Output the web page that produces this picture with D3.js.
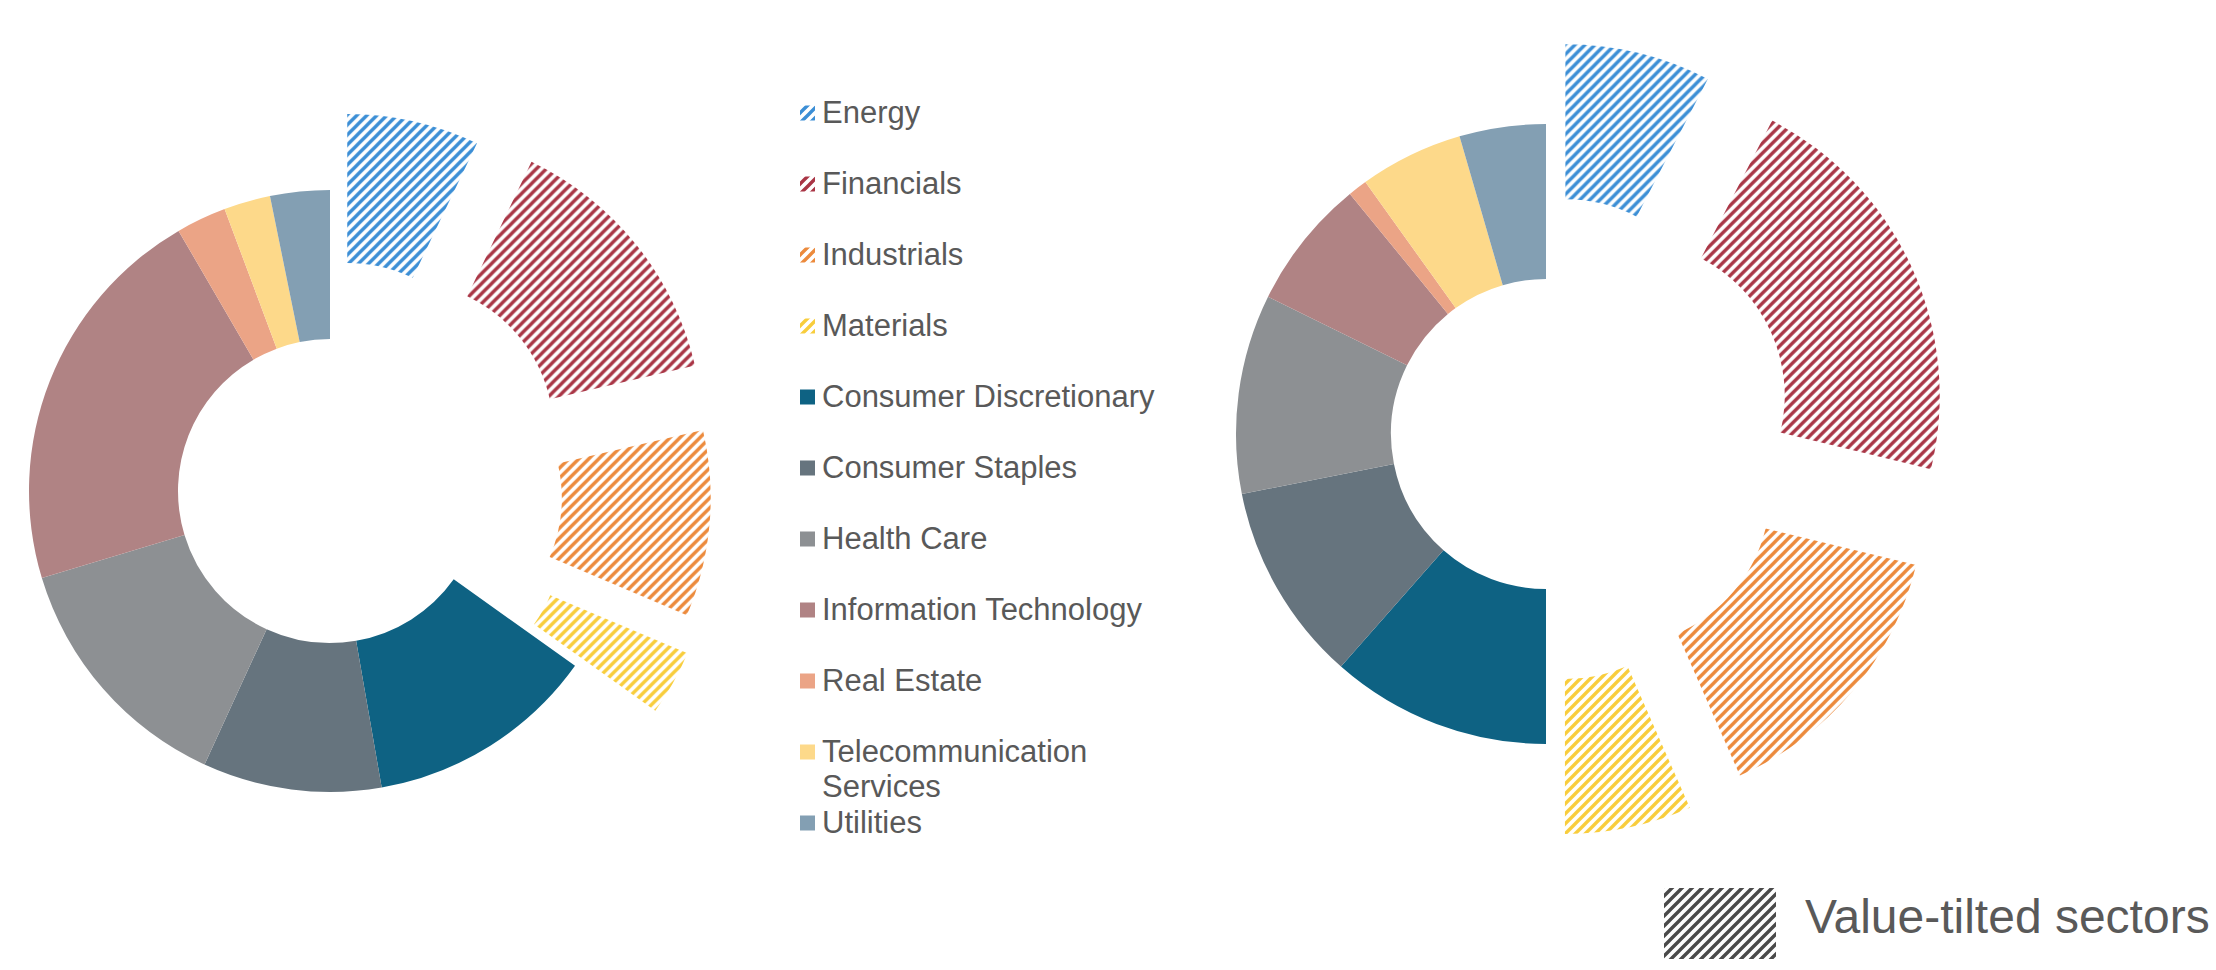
<!DOCTYPE html>
<html>
<head>
<meta charset="utf-8">
<script src="https://cdn.jsdelivr.net/npm/d3@7"></script>
<style>
  body { margin: 0; background: #fff; }
  text { font-family: "Liberation Sans", Arial, sans-serif; fill: #595959; }
</style>
</head>
<body>
<svg width="2216" height="970"></svg>
<script>
// sector weights, % (left: broad market, right: value index)
const sectors = ['Energy', 'Financials', 'Industrials', 'Materials',
    'Consumer Discretionary', 'Consumer Staples', 'Health Care',
    'Information Technology', 'Real Estate', 'Telecommunication Services', 'Utilities']
const valueTilted = ['Energy', 'Financials', 'Industrials', 'Materials']
const marketWeights = [7.1, 14.3, 10.0, 3.5, 12.4, 9.6, 13.5, 21.3, 2.7, 2.5, 3.2]
const valueWeights = [7.6, 21.2, 14.6, 6.6, 11.5, 10.4, 10.4, 6.8, 1.0, 5.4, 4.5]
const legendNote = 'Value-tilted sectors'

const svg = d3.select('svg')
const defs = svg.append('defs')

const color = d3.scaleOrdinal()
    .domain(sectors)
    .range(['#3b8ed5', '#a93545', '#ec8a3c', '#f8cd3c', '#0e6283', '#66747e',
            '#8d9093', '#b08384', '#eba486', '#fdd98a', '#839fb3'])

// diagonal hatch for the value-tilted sectors
function hatch(id, c) {
    const p = defs.append('pattern')
        .attr('id', id)
        .attr('patternUnits', 'userSpaceOnUse')
        .attr('width', 10)
        .attr('height', 10)
    p.append('path')
        .attr('d', 'M-5,5 L5,-5 M0,10 L10,0 M5,15 L15,5')
        .attr('stroke', c)
        .attr('stroke-width', 3.4)
        .attr('fill', 'none')
}
valueTilted.forEach((s, i) => hatch('hatch' + i, color(s)))
hatch('hatchNote', '#4a4a4a')

const fillOf = name => valueTilted.includes(name)
    ? `url(#hatch${valueTilted.indexOf(name)})`
    : color(name)

function donut(values, cx, cy, outer, inner, pushOut) {
    const data = sectors.map((s, i) => ({ name: s, value: values[i] }))
    const pie = d3.pie().sort(null).value(d => d.value)
    const arc = d3.arc().innerRadius(inner).outerRadius(outer)
    const explode = d3.scaleOrdinal().domain(valueTilted).range(pushOut).unknown(0)
    const g = svg.append('g').attr('transform', `translate(${cx},${cy})`)

    g.selectAll('path')
        .data(pie(data))
        .enter()
        .append('path')
        .attr('d', arc)
        .attr('fill', d => fillOf(d.data.name))
        .attr('transform', d => {
            const mid = (d.startAngle + d.endAngle) / 2
            const off = explode(d.data.name)
            return `translate(${Math.sin(mid) * off},${-Math.cos(mid) * off})`
        })
}

donut(marketWeights, 330, 491, 301, 152, [78, 92, 80, 92])
donut(valueWeights, 1546, 434, 310, 155, [82, 92, 90, 92])

// legend
const legendY = d3.scaleLinear().domain([0, 10]).range([113, 823])
const legend = svg.append('g')
const rows = legend.selectAll('g')
    .data(sectors)
    .enter()
    .append('g')
    .attr('transform', (d, i) => `translate(800,${legendY(i)})`)

rows.append('rect')
    .attr('x', 0)
    .attr('y', -7.5)
    .attr('width', 15)
    .attr('height', 15)
    .attr('fill', d => fillOf(d))

rows.append('text')
    .attr('x', 22)
    .attr('y', 10)
    .style('font-size', '31px')
    .each(function(d) {
        const t = d3.select(this)
        if (d === 'Telecommunication Services') {
            t.append('tspan').attr('x', 22).text('Telecommunication')
            t.append('tspan').attr('x', 22).attr('dy', 35).text('Services')
        } else {
            t.text(d)
        }
    })

svg.append('rect')
    .attr('x', 1664)
    .attr('y', 888)
    .attr('width', 112)
    .attr('height', 71)
    .attr('fill', 'url(#hatchNote)')

svg.append('text')
    .attr('x', 1805)
    .attr('y', 933)
    .style('font-size', '48px')
    .text(legendNote)
</script>
</body>
</html>
